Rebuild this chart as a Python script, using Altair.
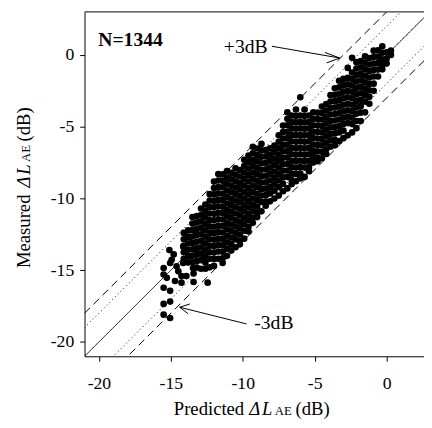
import altair as alt
import pandas as pd

# ---------------- data ----------------
# isolated points in the sparse lower-left part of the cloud
sparse_x = [-15.50, -15.50, -15.28, -15.05, -14.94, -14.60, -14.48, -14.26, -14.71, -14.26,
            -13.92, -14.14, -13.69, -13.46, -13.23, -12.78, -13.23, -13.69, -14.14, -15.50,
            -15.05, -15.50, -15.05, -15.50, -15.05, -13.42, -13.42, -12.44, -15.10, -14.80]
sparse_y = [-14.85, -15.30, -15.53, -14.50, -14.28, -14.73, -15.07, -15.41, -15.75, -15.87,
            -15.41, -14.50, -14.05, -14.85, -13.60, -14.28, -12.45, -12.68, -13.36, -16.22,
            -16.44, -17.35, -17.19, -18.10, -18.33, -15.23, -15.82, -15.87, -13.60, -13.90]

# dense part of the cloud, read column by column (predicted value -> measured values)
col_x = [-14.1, -13.8, -13.5, -13.2, -12.9, -12.6, -12.3, -12.0, -11.7, -11.4, -11.1, -10.8,
         -10.5, -10.2, -9.9, -9.6, -9.3, -9.0, -8.7, -8.4, -8.1, -7.8, -7.5, -7.2, -6.9, -6.6,
         -6.3, -6.0, -5.7, -5.4, -5.1, -4.8, -4.5, -4.2, -3.9, -3.6, -3.3, -3.0, -2.7, -2.4,
         -2.1, -1.8, -1.5, -1.2, -0.9, -0.6, -0.3, 0.0, 0.3]
col_y = [
    [-12.4, -12.85, -13.3, -13.75, -14.2],
    [-12.22, -12.67, -13.12, -13.57, -14.02, -14.47],
    [-11.3, -11.75, -12.2, -12.65, -13.1, -13.55, -14.0, -14.45],
    [-11.22, -11.67, -12.12, -12.57, -13.02, -13.47, -13.92, -14.37, -14.82],
    [-10.7, -11.15, -11.6, -12.05, -12.5, -12.95, -13.4, -13.85, -14.3, -14.9],
    [-10.42, -10.87, -11.32, -11.77, -12.22, -12.67, -13.12, -13.57, -14.02, -14.47, -14.9],
    [-9.7, -10.15, -10.6, -11.05, -11.5, -11.95, -12.4, -12.85, -13.3, -13.75, -14.2, -14.8],
    [-8.82, -9.27, -9.72, -10.17, -10.62, -11.07, -11.52, -11.97, -12.42, -12.87, -13.32, -13.77, -14.22, -14.7],
    [-8.3, -8.75, -9.2, -9.65, -10.1, -10.55, -11.0, -11.45, -11.9, -12.35, -12.8, -13.25, -13.7, -14.2],
    [-8.32, -8.77, -9.22, -9.67, -10.12, -10.57, -11.02, -11.47, -11.92, -12.37, -12.82, -13.27, -13.72, -14.17, -14.5],
    [-8.1, -8.55, -9.0, -9.45, -9.9, -10.35, -10.8, -11.25, -11.7, -12.15, -12.6, -13.05, -13.5, -14.0],
    [-8.22, -8.67, -9.12, -9.57, -10.02, -10.47, -10.92, -11.37, -11.82, -12.27, -12.72, -13.17, -13.62],
    [-7.9, -8.35, -8.8, -9.25, -9.7, -10.15, -10.6, -11.05, -11.5, -11.95, -12.4, -12.85, -13.4],
    [-8.02, -8.47, -8.92, -9.37, -9.82, -10.27, -10.72, -11.17, -11.62, -12.07, -12.52, -12.97, -13.2],
    [-7.3, -7.75, -8.2, -8.65, -9.1, -9.55, -10.0, -10.45, -10.9, -11.35, -11.8, -12.25, -12.8],
    [-7.02, -7.47, -7.92, -8.37, -8.82, -9.27, -9.72, -10.17, -10.62, -11.07, -11.52, -11.97, -12.3],
    [-6.4, -6.85, -7.3, -7.75, -8.2, -8.65, -9.1, -9.55, -10.0, -10.45, -10.9, -11.35, -11.7],
    [-6.52, -6.97, -7.42, -7.87, -8.32, -8.77, -9.22, -9.67, -10.12, -10.57, -11.02, -11.3],
    [-6.2, -6.65, -7.1, -7.55, -8.0, -8.45, -8.9, -9.35, -9.8, -10.25, -10.9],
    [-6.62, -7.07, -7.52, -7.97, -8.42, -8.87, -9.32, -9.77, -10.22, -10.5],
    [-6.5, -6.95, -7.4, -7.85, -8.3, -8.75, -9.2, -9.65, -10.2],
    [-6.32, -6.77, -7.22, -7.67, -8.12, -8.57, -9.02, -9.47, -10.0],
    [-5.6, -6.05, -6.5, -6.95, -7.4, -7.85, -8.3, -8.75, -9.2, -9.8],
    [-4.92, -5.37, -5.82, -6.27, -6.72, -7.17, -7.62, -8.07, -8.52, -8.97, -9.5],
    [-4.0, -4.45, -4.9, -5.35, -5.8, -6.25, -6.7, -7.15, -7.6, -8.05, -8.5, -9.3],
    [-4.22, -4.67, -5.12, -5.57, -6.02, -6.47, -6.92, -7.37, -7.82, -8.27, -8.72, -9.0],
    [-3.8, -4.25, -4.7, -5.15, -5.6, -6.05, -6.5, -6.95, -7.4, -7.85, -8.3, -8.8],
    [-2.95, -4.22, -4.67, -5.12, -5.57, -6.02, -6.47, -6.92, -7.37, -7.82, -8.27, -8.6],
    [-3.8, -4.25, -4.7, -5.15, -5.6, -6.05, -6.5, -6.95, -7.4, -7.85, -8.5],
    [-4.22, -4.67, -5.12, -5.57, -6.02, -6.47, -6.92, -7.37, -7.82, -8.1],
    [-4.0, -4.45, -4.9, -5.35, -5.8, -6.25, -6.7, -7.1, -7.5],
    [-4.02, -4.47, -4.92, -5.37, -5.82, -6.27, -6.72, -7.17, -7.4],
    [-3.6, -4.05, -4.5, -4.95, -5.4, -5.85, -6.3, -6.75, -7.2],
    [-3.42, -3.87, -4.32, -4.77, -5.22, -5.67, -6.12, -6.57, -6.9],
    [-2.8, -3.25, -3.7, -4.15, -4.6, -5.05, -5.5, -5.95, -6.4],
    [-2.32, -2.77, -3.22, -3.67, -4.12, -4.57, -5.02, -5.47, -5.92, -6.3],
    [-1.8, -2.25, -2.7, -3.15, -3.6, -4.05, -4.5, -4.95, -5.4, -6.0],
    [-1.67, -2.12, -2.57, -3.02, -3.47, -3.92, -4.37, -4.82, -5.27, -5.8],
    [-0.9, -1.6, -2.05, -2.5, -2.95, -3.4, -3.85, -4.3, -4.75, -5.6],
    [-0.2, -1.22, -1.67, -2.12, -2.57, -3.02, -3.47, -3.92, -4.37, -4.82, -5.4],
    [-0.5, -0.95, -1.4, -1.85, -2.3, -2.75, -3.2, -3.65, -4.1, -4.6, -5.1],
    [-0.42, -0.87, -1.32, -1.77, -2.22, -2.67, -3.12, -3.57, -4.02, -4.6],
    [-0.1, -0.55, -1.0, -1.45, -1.9, -2.35, -2.8, -3.25, -4.0],
    [-0.22, -0.67, -1.12, -1.57, -2.02, -2.47, -2.92, -3.4],
    [0.3, -0.15, -0.6, -1.05, -1.5, -2.0, -2.5],
    [0.33, -0.12, -0.57, -1.02, -1.5],
    [0.6, 0.15, -0.3, -0.7, -1.0],
    [0.18, -0.27, -0.6],
    [0.3, 0.0],
]

# reference lines: measured = predicted + offset
ref_offsets = [0, 3, -3, 2, -2]
ref_styles = ["solid", "dashed", "dashed", "dotted", "dotted"]
ref_x_ends = [-21, 3]

x_ticks = [-20, -15, -10, -5, 0]
y_ticks = [-20, -15, -10, -5, 0]

# ---------------- tables ----------------
px, py = list(sparse_x), list(sparse_y)
for cx, ys in zip(col_x, col_y):
    for v in ys:
        px.append(cx)
        py.append(v)
pts_df = pd.DataFrame({"pred": px, "meas": py})

rows = []
for i, (off, sty) in enumerate(zip(ref_offsets, ref_styles)):
    for xe in ref_x_ends:
        rows.append({"id": i, "style": sty, "pred": xe, "meas": xe + off})
lines_df = pd.DataFrame(rows)

# ---------------- chart ----------------
W, H = 346, 351
SERIF = "Liberation Serif"
xs = alt.Scale(domain=[-21, 2.6], nice=False, zero=False)
ys_ = alt.Scale(domain=[-21, 3], nice=False, zero=False)
x_axis = alt.Axis(values=x_ticks, title=None, grid=False, tickSize=5, labelPadding=14,
                  labelFont=SERIF, labelFontSize=18, labelExpr="toString(datum.value)")
y_axis = alt.Axis(values=y_ticks, title=None, grid=False, tickSize=5, labelPadding=6,
                  labelFont=SERIF, labelFontSize=18, labelExpr="toString(datum.value)")

lines = alt.Chart(lines_df).mark_line(clip=True, color="black", strokeWidth=1).encode(
    x=alt.X("pred:Q", scale=xs, axis=x_axis),
    y=alt.Y("meas:Q", scale=ys_, axis=y_axis),
    detail="id:N",
    strokeDash=alt.StrokeDash("style:N", legend=None,
                              scale=alt.Scale(domain=["solid", "dashed", "dotted"],
                                              range=[[1, 0], [8, 5], [1, 3]])),
)

points = alt.Chart(pts_df).mark_circle(size=46, color="black", opacity=1).encode(
    x=alt.X("pred:Q", scale=xs, axis=x_axis),
    y=alt.Y("meas:Q", scale=ys_, axis=y_axis),
)

one = pd.DataFrame({"k": [0]})

top_border = alt.Chart(one).mark_rule(color="black", strokeWidth=1).encode(
    x=alt.value(0), x2=alt.value(W), y=alt.value(0))


def txt(s, x, y, size=19, weight="normal", style="normal", angle=0):
    return alt.Chart(pd.DataFrame({"t": [s]})).mark_text(
        font=SERIF, fontSize=size, fontWeight=weight, fontStyle=style, angle=angle,
        align="left", baseline="alphabetic", color="black",
    ).encode(x=alt.value(x), y=alt.value(y), text="t:N")


def seg(x1, y1, x2, y2):
    return alt.Chart(one).mark_rule(color="black", strokeWidth=1).encode(
        x=alt.value(x1), y=alt.value(y1), x2=alt.value(x2), y2=alt.value(y2))


TY = 411  # baseline of x-axis title (relative to plot top)
TX = -56  # baseline of y-axis title (relative to plot left)
labels = [
    txt("N=1344", 14, 35, size=20, weight="bold"),
    txt("+3dB", 142, 42, size=20),
    seg(191, 35, 260, 47), seg(260, 47, 245, 41.3), seg(260, 47, 246.7, 52),
    txt("-3dB", 173, 323, size=20),
    seg(165, 318, 97, 301), seg(97, 301, 107.3, 297.7), seg(97, 301, 105.7, 307.7),
    # x axis title
    txt("Predicted", 91, TY, size=19),
    txt("Δ", 168, TY, size=19, style="italic"),
    txt("L", 181, TY, size=19, style="italic"),
    txt("AE", 194, TY, size=13),
    txt("(dB)", 215, TY, size=19),
    # y axis title (rotated)
    txt("Measured", TX, 261, size=19, angle=270),
    txt("Δ", TX, 179, size=19, style="italic", angle=270),
    txt("L", TX, 166, size=19, style="italic", angle=270),
    txt("AE", TX, 153, size=13, angle=270),
    txt("(dB)", TX, 132, size=19, angle=270),
]

chart = alt.layer(lines, points, top_border, *labels).properties(
    width=W, height=H,
    autosize=alt.AutoSizeParams(type="none"),
    padding={"left": 78, "top": 0, "right": 0, "bottom": 64},
).configure_view(stroke=None).configure_axis(
    labelFont=SERIF, labelFontSize=18, labelColor="black",
    domainColor="black", tickColor="black", domainWidth=1, tickWidth=1,
)

chart.save("out.html", embed_options={"renderer": "svg", "actions": False})
